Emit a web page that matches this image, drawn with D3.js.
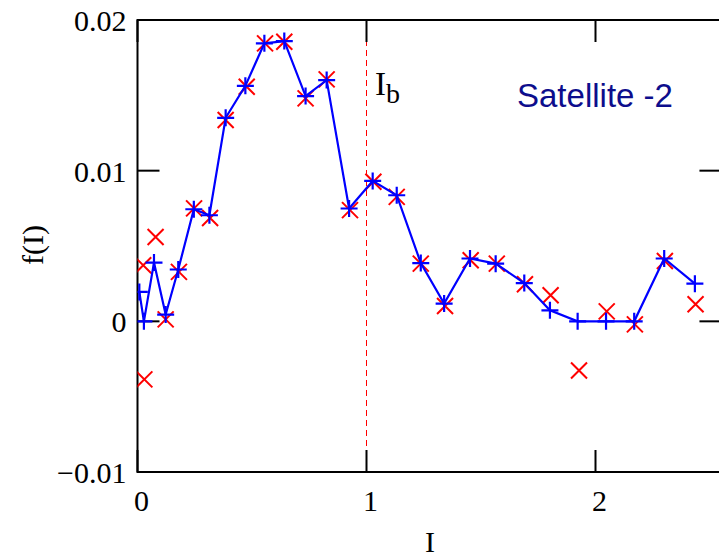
<!DOCTYPE html>
<html>
<head>
<meta charset="utf-8">
<script src="https://cdn.jsdelivr.net/npm/d3@7"></script>
<style>
  body { margin: 0; background: #fff; }
  svg { display: block; }
  .tick-label { font-family: "Liberation Serif", serif; font-size: 30px; fill: #000; }
</style>
</head>
<body>
<div id="chart"></div>
<script>
// model curve (blue +, joined)
var modelI = [0.008, 0.028, 0.072, 0.123, 0.178, 0.246, 0.314, 0.385, 0.471, 0.554, 0.641, 0.734, 0.826, 0.924,
  1.027, 1.132, 1.237, 1.339, 1.452, 1.564, 1.689, 1.801, 1.922, 2.046, 2.169, 2.300, 2.434];
var modelF = [0.00195, 0, 0.0039, 0.00045, 0.00344, 0.00744, 0.00704, 0.01351, 0.01563, 0.01845, 0.0186, 0.01495, 0.01601, 0.00749,
  0.00932, 0.00837, 0.00387, 0.00118, 0.00417, 0.00383, 0.00254, 0.00073, 0, 0, 0, 0.00417, 0.0025];

// measured points (red x)
var dataI = [0.025, 0.030, 0.079, 0.123, 0.181, 0.247, 0.317, 0.385, 0.477, 0.557, 0.641, 0.734, 0.826, 0.928,
  1.030, 1.132, 1.237, 1.343, 1.455, 1.569, 1.692, 1.804, 1.928, 2.049, 2.172, 2.303, 2.437];
var dataF = [0.00372, -0.00385, 0.0056, 0.00013, 0.00328, 0.0075, 0.00686, 0.01336, 0.01557, 0.01845, 0.01856, 0.0148, 0.01606, 0.00738,
  0.00926, 0.00826, 0.00383, 0.00102, 0.00405, 0.00383, 0.00246, 0.00173, -0.00326, 0.00066, -0.0002, 0.004, 0.00113];

var xTicks = [0, 1, 2];
var yTicks = [-0.01, 0, 0.01, 0.02];
var yTickLabels = ["\u22120.01", "0", "0.01", "0.02"];
var breakI = 1;

var width = 719, height = 558;
var plotLeft = 137.5, plotTop = 20, plotBottom = 472;
var xMax = 2.55;

var x = d3.scaleLinear().domain([0, xMax]).range([plotLeft, plotLeft + 229 * xMax]);
var y = d3.scaleLinear().domain([-0.01, 0.02]).range([plotBottom, plotTop]);
var plotRight = x(xMax);

var svg = d3.select("#chart").append("svg")
  .attr("width", width)
  .attr("height", height);

svg.append("clipPath").attr("id", "plot-clip")
  .append("rect")
  .attr("x", plotLeft).attr("y", plotTop)
  .attr("width", plotRight - plotLeft).attr("height", plotBottom - plotTop);

// dashed line at I_b
svg.append("line")
  .attr("x1", x(breakI)).attr("x2", x(breakI))
  .attr("y1", plotTop).attr("y2", plotBottom)
  .attr("stroke", "#ff0000")
  .attr("stroke-width", 1)
  .attr("stroke-dasharray", "6,4");

var tickLen = 22;
var ax = svg.append("g").attr("stroke", "#000").attr("stroke-width", 2);

// ticks on all four sides, pointing inward
yTicks.forEach(function(v) {
  ax.append("line").attr("x1", plotLeft).attr("x2", plotLeft + tickLen).attr("y1", y(v)).attr("y2", y(v));
  ax.append("line").attr("x1", plotRight).attr("x2", plotRight - tickLen).attr("y1", y(v)).attr("y2", y(v));
});
xTicks.forEach(function(v) {
  ax.append("line").attr("x1", x(v)).attr("x2", x(v)).attr("y1", plotBottom).attr("y2", plotBottom - tickLen);
  ax.append("line").attr("x1", x(v)).attr("x2", x(v)).attr("y1", plotTop).attr("y2", plotTop + tickLen);
});

// frame
ax.append("rect")
  .attr("x", plotLeft).attr("y", plotTop)
  .attr("width", plotRight - plotLeft).attr("height", plotBottom - plotTop)
  .attr("fill", "none");

// tick labels
svg.selectAll(".ylab")
  .data(yTicks)
  .enter().append("text")
  .attr("class", "tick-label")
  .attr("x", plotLeft - 11)
  .attr("y", function(d) { return y(d) + 11; })
  .attr("text-anchor", "end")
  .text(function(d, i) { return yTickLabels[i]; });

svg.selectAll(".xlab")
  .data(xTicks)
  .enter().append("text")
  .attr("class", "tick-label")
  .attr("x", function(d) { return x(d) + 4; })
  .attr("y", plotBottom + 39)
  .attr("text-anchor", "middle")
  .text(function(d) { return d; });

// axis titles
svg.append("text")
  .attr("class", "tick-label")
  .attr("x", 430)
  .attr("y", 552)
  .attr("text-anchor", "middle")
  .text("I");

svg.append("text")
  .attr("class", "tick-label")
  .attr("transform", "translate(43,245) rotate(-90)")
  .attr("text-anchor", "middle")
  .text("f(I)");

// I_b label
var ib = svg.append("text")
  .attr("class", "tick-label")
  .attr("x", 375)
  .attr("y", 95)
  .style("font-size", "33px");
ib.append("tspan").text("I");
ib.append("tspan").attr("dy", 8).style("font-size", "28px").text("b");

svg.append("text")
  .attr("x", 517)
  .attr("y", 107)
  .style("font-family", "'Liberation Sans', Arial, sans-serif")
  .style("font-size", "33px")
  .attr("fill", "#0d0d8c")
  .text("Satellite -2");

var plot = svg.append("g").attr("clip-path", "url(#plot-clip)");

// measured red crosses
var s = 8;
plot.selectAll(".cross")
  .data(d3.range(dataI.length))
  .enter().append("path")
  .attr("d", function(i) {
    var cx = x(dataI[i]), cy = y(dataF[i]);
    return "M" + (cx - s) + "," + (cy - s) + "L" + (cx + s) + "," + (cy + s) +
      "M" + (cx - s) + "," + (cy + s) + "L" + (cx + s) + "," + (cy - s);
  })
  .attr("stroke", "#ff0000")
  .attr("stroke-width", 2)
  .attr("fill", "none");

// model line
var line = d3.line()
  .x(function(i) { return x(modelI[i]); })
  .y(function(i) { return y(modelF[i]); });

plot.append("path")
  .datum(d3.range(modelI.length))
  .attr("d", line)
  .attr("fill", "none")
  .attr("stroke", "#0000ff")
  .attr("stroke-width", 2.2);

var p = 8.5;
plot.selectAll(".plus")
  .data(d3.range(modelI.length))
  .enter().append("path")
  .attr("d", function(i) {
    var cx = x(modelI[i]), cy = y(modelF[i]);
    return "M" + (cx - p) + "," + cy + "L" + (cx + p) + "," + cy +
      "M" + cx + "," + (cy - p) + "L" + cx + "," + (cy + p);
  })
  .attr("stroke", "#0000ff")
  .attr("stroke-width", 2.2)
  .attr("fill", "none");
</script>
</body>
</html>
